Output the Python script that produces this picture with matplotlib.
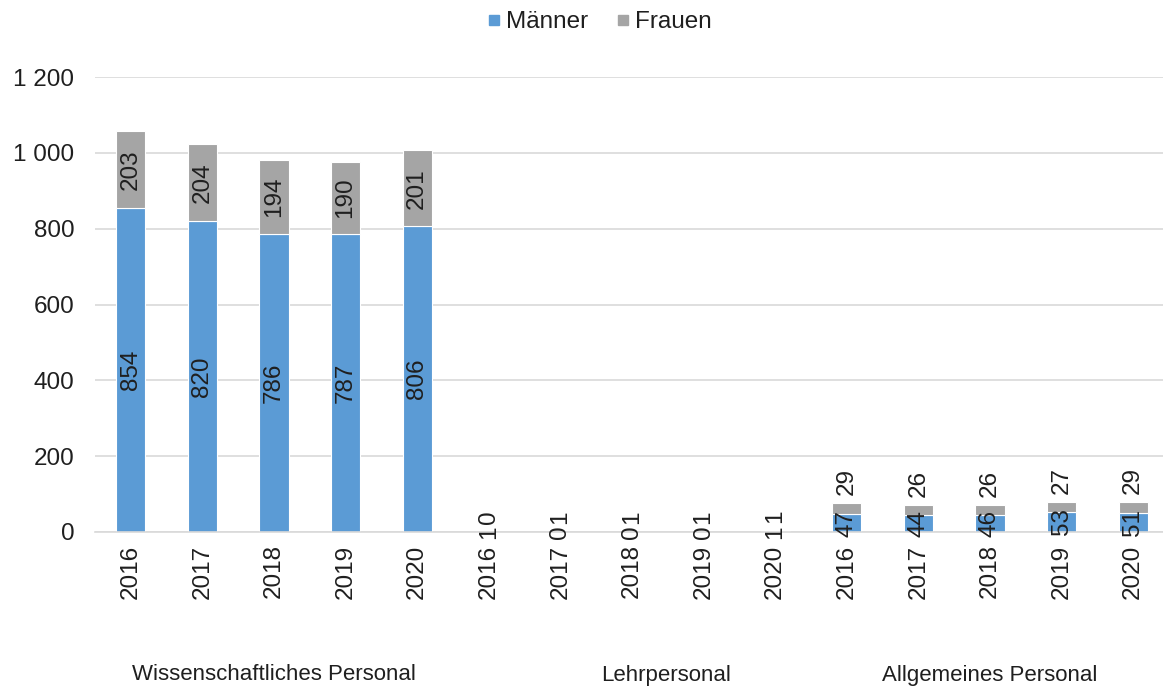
import numpy as np
import matplotlib
matplotlib.use('Agg')
import matplotlib.pyplot as plt
from matplotlib.lines import Line2D
from matplotlib.ticker import FuncFormatter

plt.rcParams['font.family'] = ['Liberation Sans', 'DejaVu Sans']

#########################################################
# data
groups = ['Wissenschaftliches Personal', 'Lehrpersonal', 'Allgemeines Personal']
years = ['2016', '2017', '2018', '2019', '2020']
maenner_wiss = [854, 820, 786, 787, 806]
frauen_wiss = [203, 204, 194, 190, 201]
maenner_lehr = [1, 0, 0, 0, 1]
frauen_lehr = [0, 1, 1, 1, 1]
maenner_allg = [47, 44, 46, 53, 51]
frauen_allg = [29, 26, 26, 27, 29]

maenner = np.array(maenner_wiss + maenner_lehr + maenner_allg)
frauen = np.array(frauen_wiss + frauen_lehr + frauen_allg)
tick_labels = years * 3
x = np.arange(len(maenner))

c_m = '#5B9BD5'
c_f = '#A5A5A5'
txt = '#1F1F1F'
fs = 17.5

#########################################################
# plot
fig = plt.figure(figsize=(11.63, 6.93), dpi=100)
ax = fig.add_axes([95 / 1163, 161 / 693, 1074 / 1163, 455 / 693])

ax.bar(x, maenner, width=0.41, color=c_m, edgecolor='white', linewidth=0.8, zorder=2)
ax.bar(x, frauen, bottom=maenner, width=0.41, color=c_f, edgecolor='white', linewidth=0.8, zorder=2)

for i in x:
    m = maenner[i]
    f = frauen[i]
    ax.text(i, m / 2, str(m), rotation=90, ha='center', va='center', fontsize=fs, color=txt, zorder=3)
    if f > 100:
        ax.text(i, m + f / 2, str(f), rotation=90, ha='center', va='center', fontsize=fs, color=txt, zorder=3)
    else:
        ax.annotate(str(f), (i, m + f), xytext=(0, 8), textcoords='offset pixels', rotation=90,
                    ha='center', va='bottom', fontsize=fs, color=txt, zorder=3)

ax.set_xlim(-0.5, len(x) - 0.5)
ax.set_ylim(0, 1200)
ax.set_yticks(np.arange(0, 1201, 200))
ax.yaxis.set_major_formatter(FuncFormatter(lambda v, p: '{:,.0f}'.format(v).replace(',', ' ')))
ax.set_xticks(x)
ax.set_xticklabels(tick_labels, rotation=90)
ax.tick_params(axis='both', length=0, labelsize=fs, labelcolor=txt)
ax.tick_params(axis='y', pad=15)
ax.tick_params(axis='x', pad=9)
ax.grid(axis='y', color='#D9D9D9', linewidth=1.2, zorder=0)
ax.set_axisbelow(True)
for s in ['top', 'right', 'left']:
    ax.spines[s].set_visible(False)
ax.spines['bottom'].set_color('#D9D9D9')
ax.spines['bottom'].set_linewidth(1.2)

# group labels
group_pos = [2, 7.47, 12]
for g, p in zip(groups, group_pos):
    ax.text(p, -(675 - 532) / 455, g, transform=ax.get_xaxis_transform(), ha='center', va='center',
            fontsize=16, color=txt)

handles = [Line2D([], [], marker='s', linestyle='', color=c_m, markersize=7),
           Line2D([], [], marker='s', linestyle='', color=c_f, markersize=7)]
fig.legend(handles, ['Männer', 'Frauen'], loc='center', bbox_to_anchor=(598 / 1163, 1 - 22 / 693),
           ncol=2, frameon=False, fontsize=fs, handletextpad=0.1, columnspacing=1.0,
           handlelength=0.8, labelcolor=txt)

plt.savefig('out.png', dpi=100)
